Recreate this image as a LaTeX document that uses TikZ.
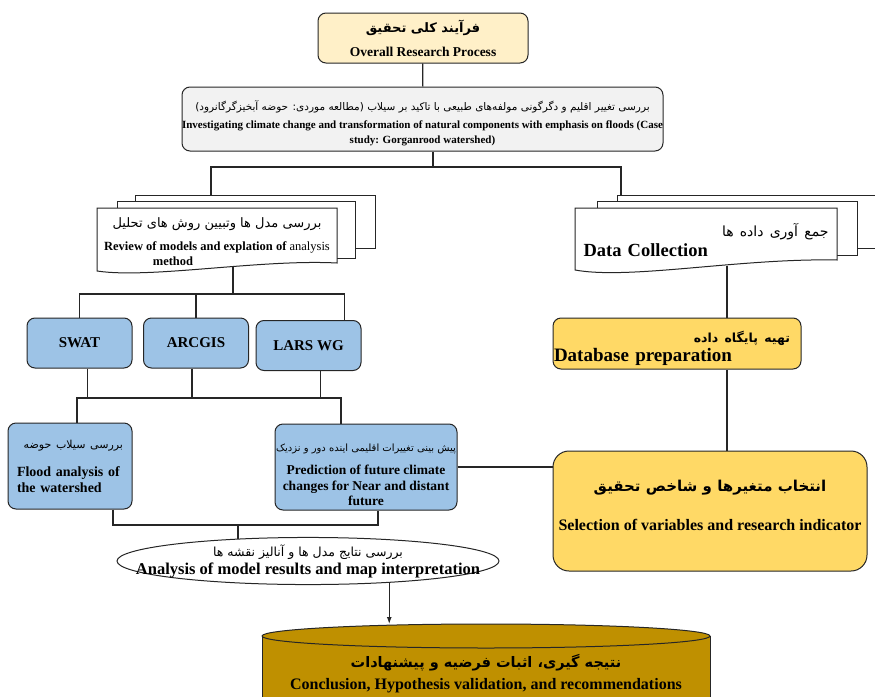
\documentclass[tikz,border=0pt]{standalone}
\usepackage{fontspec}
\setmainfont{Liberation Serif}
\newfontfamily\fafont[Script=Arabic]{DejaVu Sans}
\TeXXeTstate=1
\usetikzlibrary{shapes.geometric,arrows.meta}

\definecolor{topyellow}{HTML}{FFF0C8}
\definecolor{lightgray}{HTML}{F2F2F2}
\definecolor{toolblue}{HTML}{9DC3E6}
\definecolor{gold}{HTML}{FFD966}
\definecolor{darkgold}{HTML}{BF9000}

% persian font at a given size
\newcommand{\fa}[1]{\fontsize{#1}{#1}\fafont}

\begin{document}
\begin{tikzpicture}[x=1pt, y=-1pt, line width=1pt,
	box/.style={draw=black!85, rounded corners=8pt, align=center, inner sep=0pt},
	toolbox/.style={box, fill=toolblue, minimum width=105pt, minimum height=50pt,
		font=\fontsize{15}{18}\selectfont\bfseries},
	page/.style={draw=black!85, fill=white},
	link/.style={draw=black!85, line width=1.2pt}]
	
	\useasboundingbox (0,0) rectangle (875,696);
	
	% top of the chart
	\node[box, fill=topyellow, minimum width=210pt, minimum height=50pt,
		font=\fontsize{13.5}{24}\selectfont\bfseries] (top) at (423,38)
		{{\fa{13}\beginR فرآیند کلی تحقیق\endR}\\Overall Research Process};
	\node[box, fill=lightgray, minimum width=481pt, minimum height=64pt,
		font=\fontsize{11}{15}\selectfont\bfseries] (invest) at (422.5,119)
		{\rule{0pt}{18pt}{\fa{10.5}\mdseries\beginR بررسی تغییر اقلیم و دگرگونی مولفه‌های طبیعی با تاکید بر سیلاب (مطالعه موردی: حوضه آبخیزگرگانرود)\endR}\\[3pt]
		Investigating climate change and transformation of natural components with emphasis on floods (Case\\
		study: Gorganrood watershed)};
	
	% document stacks
	\draw[page] (135,195) rectangle (375,248);
	\draw[page] (117,201) rectangle (355,258);
	\draw[page] (97,208) -- (337,208) -- (337,263) .. controls (260,259) and (150,279) .. (97,271) -- cycle;
	\node[align=center, font=\fontsize{12.5}{15}\selectfont\bfseries] (review) at (217,242)
		{{\fa{13}\mdseries\beginR بررسی مدل ها وتبیین روش های تحلیل\endR}\\[8pt]
		Review of models and explation of {\mdseries analysis}\\method\hspace*{88pt}};
	
	\draw[page] (617,195) rectangle (900,248);
	\draw[page] (597,201) rectangle (857,255);
	\draw[page] (575,208) -- (837,208) -- (837,260) .. controls (740,258) and (630,280) .. (575,270) -- cycle;
	\node[text width=245pt, align=left, inner sep=0pt, font=\fontsize{18.5}{20}\selectfont\bfseries] (datacol) at (706,240)
		{\hspace*{\fill}{\fa{14}\mdseries\beginR جمع آوری داده ها\endR}\\Data Collection};
	
	% models
	\node[toolbox] (swat) at (79.5,343) {SWAT};
	\node[toolbox] (arcgis) at (196,343) {ARCGIS};
	\node[toolbox] (lars) at (308.5,345.5) {LARS WG};
	
	\node[box, fill=toolblue, minimum width=124pt, minimum height=86pt, text width=106pt, align=left,
		font=\fontsize{14}{16}\selectfont\bfseries] (flood) at (70,466)
		{\hspace*{\fill}{\fa{11}\mdseries\beginR بررسی سیلاب حوضه\endR}\hspace*{\fill}\\[12pt]Flood analysis of\\the watershed};
	\node[box, fill=toolblue, minimum width=182pt, minimum height=86pt,
		font=\fontsize{13.5}{15.5}\selectfont\bfseries] (pred) at (366,467)
		{\rule{0pt}{23pt}{\fa{10}\mdseries\beginR پیش بینی تغییرات اقلیمی اینده دور و نزدیک\endR}\\[8pt]
		Prediction of future climate\\changes for Near and distant\\future};
	
	% data side
	\node[box, fill=gold, minimum width=248pt, minimum height=51pt, text width=246pt, align=left,
		font=\fontsize{19}{18}\selectfont\bfseries] (dbase) at (677,343.5)
		{\rule{0pt}{21pt}\hspace*{\fill}{\fa{12.5}\beginR تهیه پایگاه داده\endR}\rule{10pt}{0pt}\\[1pt]Database preparation};
	\node[box, rounded corners=16pt, fill=gold, minimum width=314pt, minimum height=120pt,
		font=\fontsize{16}{20}\selectfont\bfseries] (sel) at (710,511)
		{{\fa{15}\beginR انتخاب متغیرها و شاخص تحقیق\endR}\\[19pt]Selection of variables and research indicator\rule[-12pt]{0pt}{12pt}};
	
	% results
	\node[draw=black!85, ellipse, fill=white, minimum width=382pt, minimum height=47pt, inner sep=0pt,
		align=center, font=\fontsize{16.5}{18}\selectfont\bfseries] (analysis) at (308,561)
		{\makebox[250pt]{\fa{12.5}\mdseries\beginR بررسی نتایج مدل ها و آنالیز نقشه ها\endR}\\
		\makebox[250pt]{Analysis of model results and map interpretation}};
	
	\draw[draw=black!85, fill=darkgold] (262,636) -- (262,710) -- (710,710) -- (710,636);
	\draw[draw=black!85, fill=darkgold] (486,636) ellipse [x radius=224pt, y radius=12pt];
	\node[align=center, font=\fontsize{16}{22}\selectfont\bfseries] (concl) at (486,674)
		{{\fa{14.5}\beginR نتیجه گیری، اثبات فرضیه و پیشنهادات\endR}\\Conclusion, Hypothesis validation, and recommendations};
	
	% junctions
	\coordinate (j1) at (433,167);
	\coordinate (revtop) at (211,195);
	\coordinate (dattop) at (621,195);
	\coordinate (revbot) at (233,267);
	\coordinate (datbot) at (727,266);
	\coordinate (j2) at (233,294);
	\coordinate (b1) at (77,398);
	\coordinate (b2) at (341,398);
	\coordinate (b3) at (238,525);
	\coordinate (cyltop) at (388,624);
	
	\draw[link] (top) -- (invest);
	\draw[link] (invest.south -| j1) -- (j1);
	\draw[link] (revtop) |- (j1) -| (dattop);
	\draw[link] (revbot) -- (j2);
	\draw[link] (swat) |- (j2) -| ([xshift=36pt]lars.north);
	\draw[link] (arcgis) -- (arcgis |- j2);
	\foreach \n/\dx in {swat/8, arcgis/-4, lars/12}
		\draw[link] ([xshift=\dx pt]\n.south) -- ([xshift=\dx pt]\n.south |- b1);
	\draw[link] ([xshift=7pt]flood.north) |- (b2) -- ([xshift=-25pt]pred.north);
	\draw[link] ([xshift=43pt]flood.south) |- (b3) -| ([xshift=12pt]pred.south);
	\draw[link] (b3) -- (b3 |- analysis.163);
	\draw[link] (pred.east) -- (pred.east -| sel.west);
	\draw[link] (datbot) -- (datbot |- dbase.north);
	\draw[link] (dbase.south -| datbot) -- (datbot |- sel.north);
	\draw[link, -{Latex[length=7pt, width=5pt]}] (analysis.-15) -- (analysis.-15 |- cyltop);
	
\end{tikzpicture}
\end{document}
